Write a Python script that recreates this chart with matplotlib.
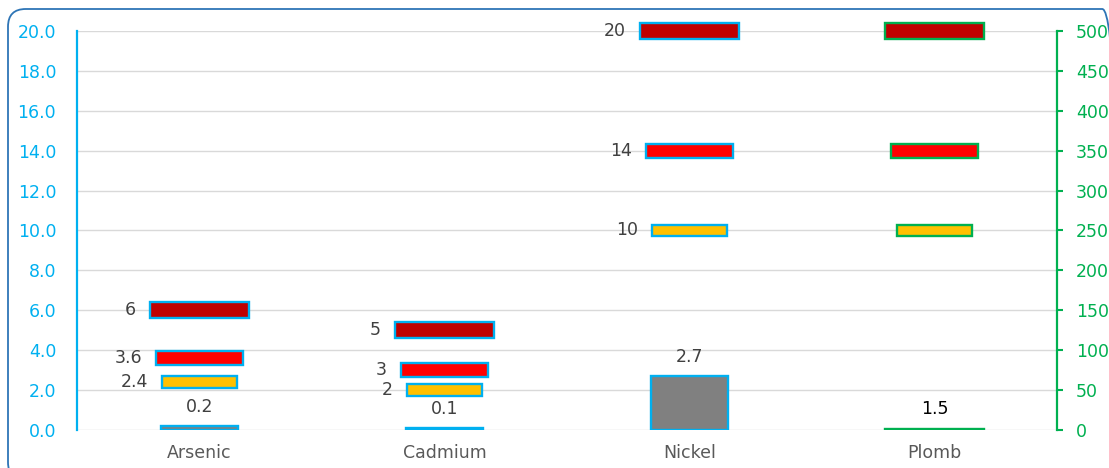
import matplotlib
matplotlib.use("Agg")
import matplotlib.pyplot as plt
from matplotlib.patches import FancyBboxPatch
import numpy as np

plt.rcParams['font.family'] = ['DejaVu Sans']

# Data
categories = ["Arsenic", "Cadmium", "Nickel", "Plomb"]
measured = [0.2, 0.1, 2.7, 1.5]          # last one on the secondary axis
limit_low = [2.4, 2, 10, 250]
limit_mid = [3.6, 3, 14, 350]
limit_high = [6, 5, 20, 500]
on_secondary = [False, False, False, True]

BLUE = "#00B0F0"
GREEN = "#00B050"
GREY = "#808080"
YELLOW = "#FFC000"
RED = "#FF0000"
DARKRED = "#C00000"
LABEL = "#404040"

W, H = 1109, 468
fig = plt.figure(figsize=(W / 100, H / 100), dpi=100)
ax = fig.add_axes([77 / W, (H - 430) / H, (1057 - 77) / W, (430 - 31) / H])
ax2 = ax.twinx()

ax.set_xlim(-0.5, 3.5)
ax.set_ylim(0, 20)
ax2.set_ylim(0, 500)
ax.set_yticks(np.arange(0, 21, 2))
ax.set_yticklabels([f"{v:.1f}" for v in np.arange(0, 21, 2)])
ax2.set_yticks(np.arange(0, 501, 50))

ax.grid(axis="y", color="#D9D9D9", linewidth=1)
ax.set_axisbelow(True)
ax.set_xticks(range(len(categories)))
ax.set_xticklabels(categories, color="#595959", fontsize=12.5)
ax.tick_params(axis="x", length=0, pad=10)
ax.tick_params(axis="y", length=0, pad=15, labelcolor=BLUE, labelsize=12.5)
ax2.tick_params(axis="y", length=4.5, width=1.5, color=GREEN, pad=9,
                labelcolor=GREEN, labelsize=12.5, direction="out")

for s in ["top", "bottom", "right"]:
    ax.spines[s].set_visible(False)
for s in ["top", "bottom", "left"]:
    ax2.spines[s].set_visible(False)
ax.spines["left"].set_color(BLUE)
ax.spines["left"].set_linewidth(1.6)
ax2.spines["right"].set_color(GREEN)
ax2.spines["right"].set_linewidth(1.6)

lw = 1.7
# axis scale factor so marker heights look the same on both axes
scale2 = 25.0

limit_sets = [
    (limit_high, DARKRED, 0.405, 0.80),
    (limit_mid, RED, 0.355, 0.70),
    (limit_low, YELLOW, 0.305, 0.60),
]

for i, cat in enumerate(categories):
    a = ax2 if on_secondary[i] else ax
    edge = GREEN if on_secondary[i] else BLUE
    k = scale2 if on_secondary[i] else 1.0
    # measured value bar
    bw = 0.405 if on_secondary[i] else 0.315
    a.bar(i, measured[i], width=bw, color=GREY, edgecolor=edge, linewidth=lw, zorder=3)
    a.annotate(f"{measured[i]:g}", (i, measured[i]), xytext=(0, 14),
               textcoords="offset points", ha="center", va="center",
               fontsize=12.5, color="#000000" if on_secondary[i] else LABEL)
    # limit markers
    for vals, col, w, h in limit_sets:
        v = vals[i]
        hh = h * k
        a.bar(i, hh, width=w, bottom=v - hh / 2, color=col, edgecolor=edge,
              linewidth=lw, zorder=4, clip_on=False)
        if not on_secondary[i]:
            a.annotate(f"{v:g}", (i - w / 2, v), xytext=(-10, 0),
                       textcoords="offset points", ha="right", va="center",
                       fontsize=12.5, color=LABEL)

# rounded frame around the chart
frame = FancyBboxPatch((8 / W, -12 / H), (1120 - 8) / W, (H + 12 - 9) / H,
                       boxstyle="round,pad=0,rounding_size=0.016",
                       transform=fig.transFigure, fill=False,
                       edgecolor="#2E75B6", linewidth=1.3, mutation_aspect=W / H)
fig.patches.append(frame)

fig.savefig("out.png", dpi=100)
